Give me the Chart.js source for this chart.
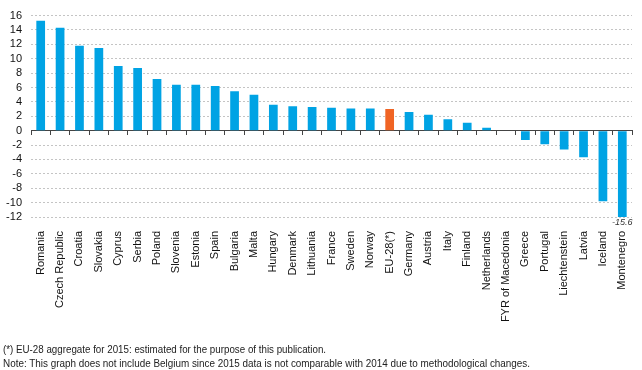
<!DOCTYPE html>
<html>
<head>
<meta charset="utf-8">
<script src="https://cdn.jsdelivr.net/npm/chart.js@4.4.0/dist/chart.umd.min.js"></script>
<style>
  html, body { margin: 0; padding: 0; background: #fff; }
  #wrap { position: relative; width: 642px; height: 370px; }
  .note {
    position: absolute; left: 3px; white-space: nowrap;
    font: 11px "Liberation Sans Narrow", "Liberation Sans", Arial, sans-serif;
    color: #222; transform-origin: 0 0;
  }
</style>
</head>
<body>
<div id="wrap">
  <canvas id="chart" width="642" height="370"></canvas>
  <div class="note" id="n1" style="top:343px">(*) EU-28 aggregate for 2015: estimated for the purpose of this publication.</div>
  <div class="note" id="n2" style="top:357px">Note: This graph does not include Belgium since 2015 data is not comparable with 2014 due to methodological changes.</div>
</div>
<script>
// Change 2015 vs 2014, %
const categories = [
  "Romania", "Czech Republic", "Croatia", "Slovakia", "Cyprus", "Serbia",
  "Poland", "Slovenia", "Estonia", "Spain", "Bulgaria", "Malta", "Hungary",
  "Denmark", "Lithuania", "France", "Sweden", "Norway", "EU-28(*)", "Germany",
  "Austria", "Italy", "Finland", "Netherlands", "FYR of Macedonia", "Greece",
  "Portugal", "Liechtenstein", "Latvia", "Iceland", "Montenegro"
];
const values = [
  15.3, 14.3, 11.8, 11.5, 9.0, 8.7,
  7.2, 6.4, 6.4, 6.2, 5.5, 5.0, 3.6,
  3.4, 3.3, 3.2, 3.1, 3.1, 3.0, 2.6,
  2.2, 1.6, 1.1, 0.4, 0.0, -1.3,
  -1.9, -2.6, -3.7, -9.8, -15.6
];
const yTicks = [-12, -10, -8, -6, -4, -2, 0, 2, 4, 6, 8, 10, 12, 14, 16];
const highlight = "EU-28(*)";

const BLUE = "rgb(0,163,228)";
const ORANGE = "rgb(240,100,36)";

// value label for bars running past the axis minimum
const clippedLabels = {
  id: "clippedLabels",
  afterDatasetsDraw(chart) {
    const { ctx, chartArea, scales } = chart;
    const meta = chart.getDatasetMeta(0);
    ctx.save();
    ctx.font = "italic 9px 'Liberation Sans', Arial, sans-serif";
    ctx.fillStyle = "#333";
    ctx.textAlign = "center";
    ctx.textBaseline = "top";
    meta.data.forEach((bar, i) => {
      if (values[i] < scales.y.min) {
        ctx.fillText(values[i].toFixed(1), bar.x, chartArea.bottom + 1);
      }
    });
    ctx.restore();
  },
};

new Chart(document.getElementById("chart"), {
  type: "bar",
  data: {
    labels: categories,
    datasets: [
      {
        data: values,
        backgroundColor: categories.map((c) => (c === highlight ? ORANGE : BLUE)),
        barPercentage: 0.45,
        categoryPercentage: 1,
        xAxisID: "x",
      },
    ],
  },
  plugins: [clippedLabels],
  options: {
    responsive: false,
    animation: false,
    layout: { padding: { top: 14, right: 10, bottom: 0, left: 0 } },
    plugins: {
      legend: { display: false },
      tooltip: { enabled: false },
    },
    scales: {
      x: {
        position: "bottom",
        grid: { display: false, drawTicks: false },
        border: { display: false },
        ticks: {
          autoSkip: false,
          minRotation: 90,
          maxRotation: 90,
          padding: 14,
          color: "#111",
          font: { family: "'Liberation Sans', Arial, sans-serif", size: 11 },
        },
        afterFit(scale) {
          scale.height = 153;
          scale.paddingLeft = 0;
          scale.paddingRight = 0;
        },
      },
      x0: {
        type: "category",
        position: { y: 0 },
        offset: true,
        grid: { offset: true, drawOnChartArea: false, drawTicks: true, tickLength: 4, color: "#444" },
        border: { display: true, color: "#444", width: 1 },
        ticks: { display: false },
      },
      y: {
        min: -12,
        max: 16,
        afterBuildTicks(scale) {
          scale.ticks = yTicks.map((v) => ({ value: v }));
        },
        grid: { color: "#c4c4c4", drawTicks: false, lineWidth: 1 },
        border: { display: false, dash: [2, 2] },
        ticks: {
          autoSkip: false,
          padding: 9,
          color: "#111",
          font: { family: "'Liberation Sans', Arial, sans-serif", size: 11 },
        },
        afterFit(scale) {
          scale.width = 31;
        },
      },
    },
  },
});

// squeeze the notes to the width of the original narrow type
const target = { n1: 323, n2: 527 };
Object.keys(target).forEach((id) => {
  const el = document.getElementById(id);
  const w = el.getBoundingClientRect().width;
  el.style.transform = "scaleX(" + (target[id] / w).toFixed(3) + ")";
});
</script>
</body>
</html>
